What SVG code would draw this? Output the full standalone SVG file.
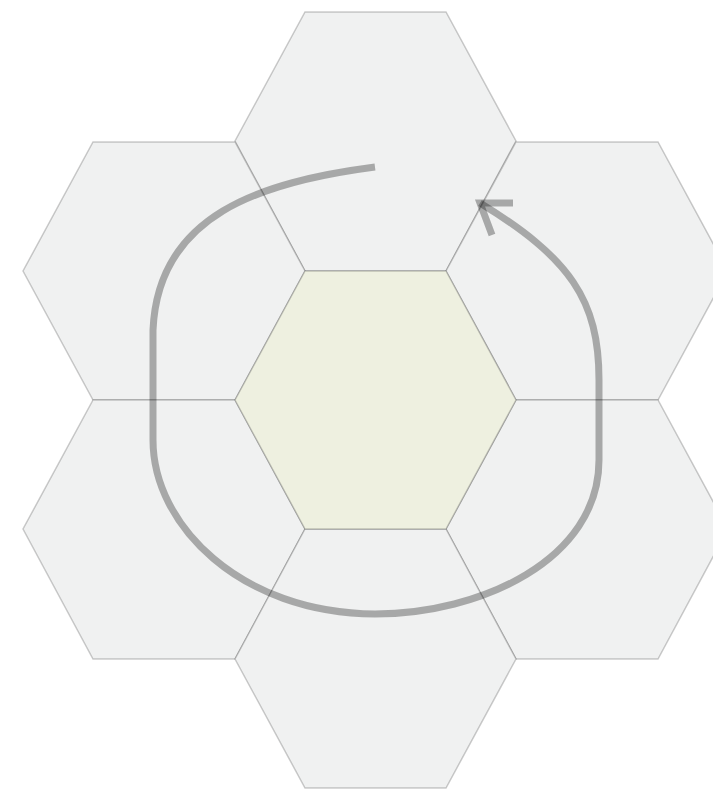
<svg xmlns="http://www.w3.org/2000/svg" width="713" height="792" viewBox="0 0 713 792">
<style>
.hex{fill:#f0f1f1;stroke:#000;stroke-opacity:0.2;stroke-width:1.5}
.center{fill:#eef0e0}
.flow{fill:none;stroke:#000;stroke-opacity:0.3;stroke-width:7;stroke-linecap:butt}
</style>
<rect width="713" height="792" fill="#fff"/>
<g id="hex-top"><polygon class="hex" points="305,12 446,12 516,141 446,271 305,271 235,141"/></g>
<g id="hex-upper-left"><polygon class="hex" points="93,142 235,142 305,271 235,400 93,400 23,271"/></g>
<g id="hex-upper-right"><polygon class="hex" points="516,142 658,142 728,271 658,400 516,400 446,271"/></g>
<g id="hex-lower-left"><polygon class="hex" points="93,400 235,400 305,529 235,659 93,659 23,529"/></g>
<g id="hex-lower-right"><polygon class="hex" points="516,400 658,400 728,529 658,659 516,659 446,529"/></g>
<g id="hex-bottom"><polygon class="hex" points="305,529 446,529 516,659 446,788 305,788 235,659"/></g>
<g id="hex-center"><polygon class="hex center" points="305,271 446,271 516,400 446,529 305,529 235,400"/></g>
<g id="connectors">
<path class="flow" d="M375,167 C260,182 158,215 153,330 L153,440 C153,525 240,613 375,614 C480,614 599,560 599,460 L599,380 C599,300 570,258 480,203"/>
<path class="flow" d="M513,203 L480,203 L492,235"/>
</g>
</svg>
